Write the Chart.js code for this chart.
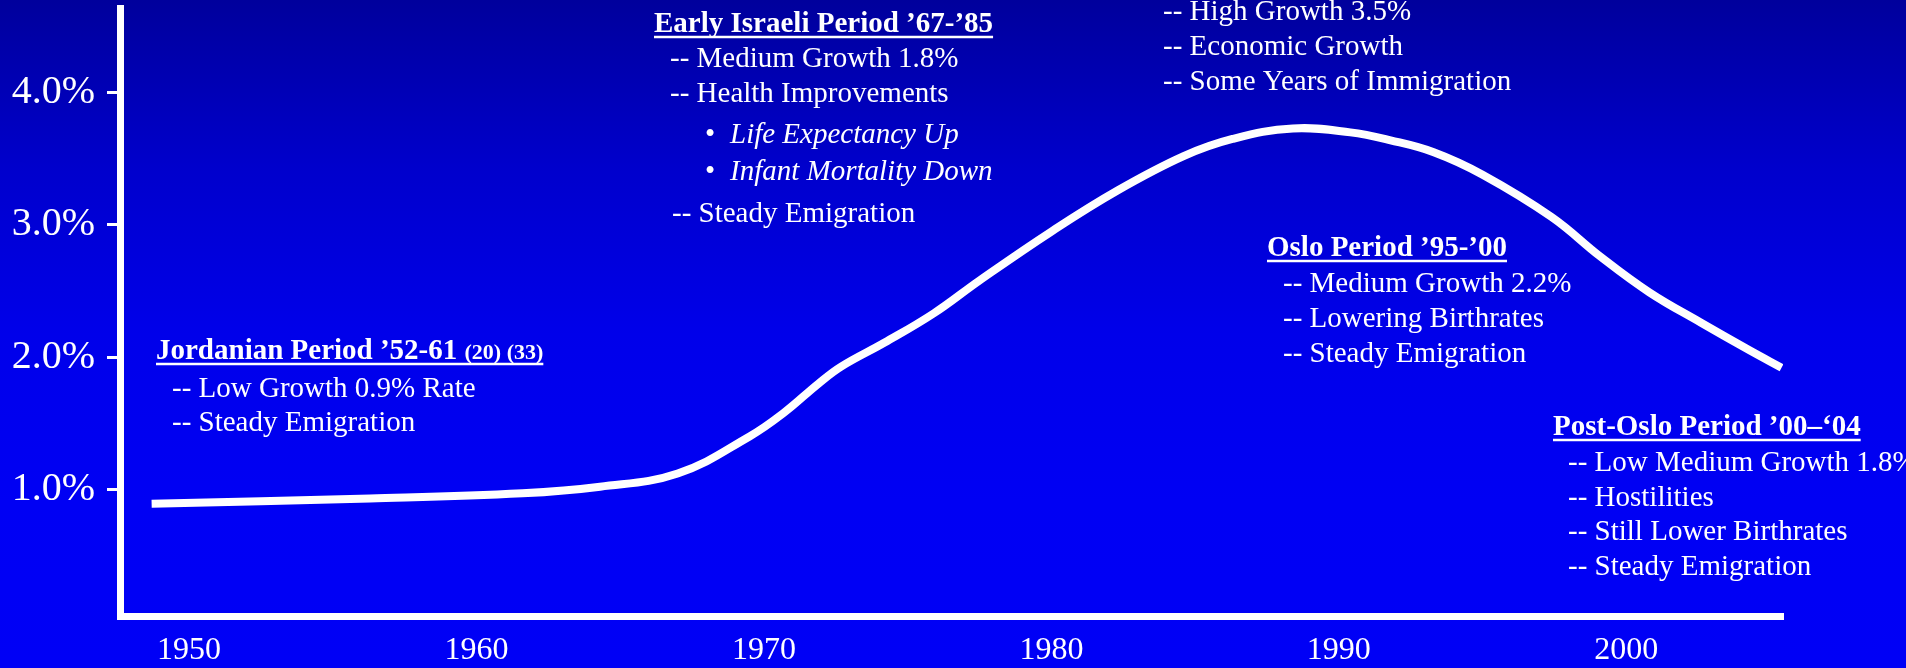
<!DOCTYPE html>
<html>
<head>
<meta charset="utf-8">
<script src="https://cdn.jsdelivr.net/npm/chart.js@4"></script>
<style>
  html, body { margin: 0; padding: 0; background: #0000f0; overflow: hidden; }
  canvas { display: block; }
</style>
</head>
<body>
<canvas id="growthChart" width="1906" height="668"></canvas>
<script>
// Population growth rate curve, read along its length
const years = [1948.7, 1956.3, 1961.6, 1964.3, 1967.0, 1969.5, 1970.7, 1971.9,
    1972.7, 1974.2, 1975.9, 1977.5, 1980.0, 1982.3, 1984.6, 1986.3, 1988.4, 1990.4,
    1991.8, 1993.3, 1995.0, 1997.4, 1999.1, 2000.8, 2002.6, 2004.3, 2005.4];
const growthRate = [0.89, 0.93, 0.97, 1.02, 1.12, 1.40, 1.58, 1.80,
    1.93, 2.11, 2.33, 2.58, 2.95, 3.26, 3.52, 3.65, 3.73, 3.70,
    3.64, 3.55, 3.38, 3.06, 2.76, 2.49, 2.26, 2.05, 1.92];

// Axis ticks
const yearTicks = [1950, 1960, 1970, 1980, 1990, 2000];
const rateTicks = [1, 2, 3, 4];

// Period notes written over the chart
const periodNotes = [
    {
        title: "Jordanian Period \u201952-61 ", suffix: "(20) (33)",
        tx: 156, ty: 359, lx: 172,
        lines: [
            { text: "-- Low Growth 0.9% Rate", y: 397 },
            { text: "-- Steady Emigration", y: 431 }
        ]
    },
    {
        title: "Early Israeli Period \u201967-\u201985",
        tx: 654, ty: 32, lx: 670,
        lines: [
            { text: "-- Medium Growth 1.8%", y: 67 },
            { text: "-- Health Improvements", y: 102 },
            { text: "Life Expectancy Up", y: 143, bullet: true },
            { text: "Infant Mortality Down", y: 180, bullet: true },
            { text: "-- Steady Emigration", y: 222, dx: 2 }
        ]
    },
    {
        lx: 1163,
        lines: [
            { text: "-- High Growth 3.5%", y: 20 },
            { text: "-- Economic Growth", y: 55 },
            { text: "-- Some Years of Immigration", y: 90 }
        ]
    },
    {
        title: "Oslo Period \u201995-\u201900",
        tx: 1267, ty: 256, lx: 1283,
        lines: [
            { text: "-- Medium Growth 2.2%", y: 292 },
            { text: "-- Lowering Birthrates", y: 327 },
            { text: "-- Steady Emigration", y: 362 }
        ]
    },
    {
        title: "Post-Oslo Period \u201900\u2013\u201804",
        tx: 1553, ty: 435, lx: 1568,
        lines: [
            { text: "-- Low Medium Growth 1.8%", y: 471 },
            { text: "-- Hostilities", y: 506 },
            { text: "-- Still Lower Birthrates", y: 540 },
            { text: "-- Steady Emigration", y: 575 }
        ]
    }
];

const SERIF = "'Liberation Serif', 'Times New Roman', serif";

// Blue slide background, darker at the top
const backgroundPlugin = {
    id: "slideBackground",
    beforeDraw(chart) {
        const ctx = chart.ctx;
        const grad = ctx.createLinearGradient(0, 0, 0, chart.height);
        grad.addColorStop(0, "#00009c");
        grad.addColorStop(0.25, "#0000cc");
        grad.addColorStop(0.5, "#0000ea");
        grad.addColorStop(0.75, "#0000f4");
        grad.addColorStop(1, "#0000f6");
        ctx.save();
        ctx.fillStyle = grad;
        ctx.fillRect(0, 0, chart.width, chart.height);
        ctx.restore();
    }
};

// Draws the period titles and their bullet lists
const notesPlugin = {
    id: "periodNotes",
    afterDraw(chart) {
        const ctx = chart.ctx;
        ctx.save();
        ctx.fillStyle = "#ffffff";
        ctx.strokeStyle = "#ffffff";
        ctx.textBaseline = "alphabetic";
        ctx.textAlign = "left";

        periodNotes.forEach(note => {
            if (note.title) {
                ctx.font = "bold 29px " + SERIF;
                ctx.fillText(note.title, note.tx, note.ty);
                let w = ctx.measureText(note.title).width;
                if (note.suffix) {
                    ctx.font = "bold 22px " + SERIF;
                    ctx.fillText(note.suffix, note.tx + w, note.ty);
                    w += ctx.measureText(note.suffix).width;
                }
                // underline
                ctx.lineWidth = 2.5;
                ctx.beginPath();
                ctx.moveTo(note.tx, note.ty + 5);
                ctx.lineTo(note.tx + w, note.ty + 5);
                ctx.stroke();
            }
            note.lines.forEach(line => {
                if (line.bullet) {
                    ctx.font = "29px " + SERIF;
                    ctx.fillText("\u2022", note.lx + 35, line.y);
                    ctx.font = "italic 29px " + SERIF;
                    ctx.fillText(line.text, note.lx + 60, line.y);
                } else {
                    ctx.font = "29px " + SERIF;
                    ctx.fillText(line.text, note.lx + (line.dx || 0), line.y);
                }
            });
        });
        ctx.restore();
    }
};

const ctx = document.getElementById("growthChart").getContext("2d");

new Chart(ctx, {
    type: "line",
    data: {
        datasets: [{
            data: years.map((x, i) => ({ x: x, y: growthRate[i] })),
            borderColor: "#ffffff",
            borderWidth: 8,
            borderCapStyle: "butt",
            pointRadius: 0,
            fill: false,
            tension: 0.4
        }]
    },
    options: {
        responsive: false,
        animation: false,
        devicePixelRatio: 1,
        layout: {
            padding: { top: 8.5, right: 123, left: 0, bottom: 0 }
        },
        plugins: {
            legend: { display: false },
            tooltip: { enabled: false }
        },
        scales: {
            x: {
                type: "linear",
                min: 1947.6,
                max: 2005.45,
                afterBuildTicks: scale => {
                    scale.ticks = yearTicks.map(v => ({ value: v }));
                },
                afterFit: scale => {
                    scale.height = 51.5;
                },
                grid: { display: false },
                border: { display: true, color: "#ffffff", width: 7 },
                ticks: {
                    color: "#ffffff",
                    font: { family: SERIF, size: 32 },
                    padding: 7,
                    maxRotation: 0,
                    autoSkip: false,
                    callback: v => String(v)
                }
            },
            y: {
                type: "linear",
                min: 0.038,
                max: 4.637,
                afterBuildTicks: scale => {
                    scale.ticks = rateTicks.map(v => ({ value: v }));
                },
                afterFit: scale => {
                    // tick labels sit well inside the range, no edge padding needed
                    scale.width = 120;
                    scale.paddingTop = 0;
                    scale.paddingBottom = 0;
                },
                grid: {
                    display: true,
                    drawOnChartArea: false,
                    drawTicks: true,
                    tickLength: 13,
                    tickWidth: 3,
                    tickColor: "#ffffff"
                },
                border: { display: true, color: "#ffffff", width: 7 },
                ticks: {
                    color: "#ffffff",
                    font: { family: SERIF, size: 40 },
                    padding: 12,
                    callback: v => v.toFixed(1) + "%"
                }
            }
        }
    },
    plugins: [backgroundPlugin, notesPlugin]
});
</script>
</body>
</html>
